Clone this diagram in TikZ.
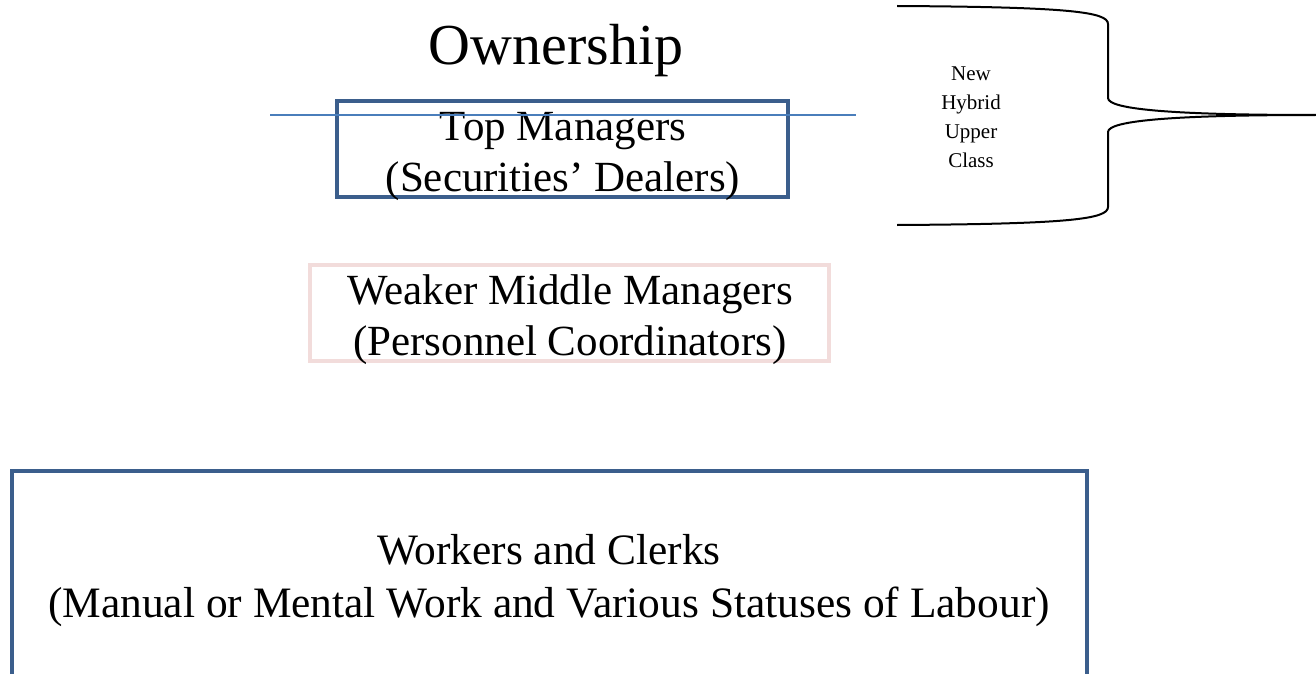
\documentclass[tikz,border=0pt]{standalone}
\usepackage{fontspec}
\setmainfont{Liberation Serif}
\definecolor{boxblue}{HTML}{3B5E8C}
\definecolor{lineblue}{HTML}{4A7EBB}
\definecolor{boxpink}{HTML}{F2DCDB}
\tikzset{
  tierbox/.style={draw=boxblue, line width=4pt, rectangle, inner sep=0pt},
  pinkbox/.style={tierbox, draw=boxpink},
  tiertext/.style={align=center, inner sep=0pt, font=\fontsize{43}{51}\selectfont},
  brace/.style={draw=black, line width=2pt},
}
\begin{document}
\begin{tikzpicture}[x=1pt,y=-1pt]
\useasboundingbox (0,0) rectangle (1316,674);
\node[font=\fontsize{58}{64}\selectfont] (own) at (556,51) {Ownership};
\node[tierbox, minimum width=451pt, minimum height=96pt] (top) at (562.5,149) {};
\node[tiertext] (toptxt) at (563,156) {Top Managers\\(Securities’ Dealers)};
\node[pinkbox, minimum width=519pt, minimum height=96pt] (mid) at (569.5,313) {};
\node[tiertext] (midtxt) at (570,320) {Weaker Middle Managers\\(Personnel Coordinators)};
\node[tierbox, minimum width=1075pt, minimum height=220pt] (work) at (549.5,581) {};
\node[tiertext, font=\fontsize{43.4}{53}\selectfont] (worktxt) at (549,581) {Workers and Clerks\\(Manual or Mental Work and Various Statuses of Labour)};
\coordinate (la) at (270,115);
\coordinate (lb) at (856,115);
\draw[lineblue, line width=1.5pt] (la) -- (lb);
\coordinate (b1) at (897,6);
\coordinate (b2) at (1108,24);
\coordinate (b3) at (1108,98);
\coordinate (tip) at (1316,115);
\coordinate (b4) at (1108,132);
\coordinate (b5) at (1108,207);
\coordinate (b6) at (897,225);
\draw[brace] (b1) .. controls (1070,7) and (1108,12) .. (b2) -- (b3)
  .. controls (1108,110) and (1180,115) .. (tip)
  .. controls (1180,115) and (1108,120) .. (b4) -- (b5)
  .. controls (1108,219) and (1070,224) .. (b6);
\node[align=center, font=\fontsize{21}{29}\selectfont] (hyb) at (971,117) {New\\Hybrid\\Upper\\Class};
\end{tikzpicture}
\end{document}
